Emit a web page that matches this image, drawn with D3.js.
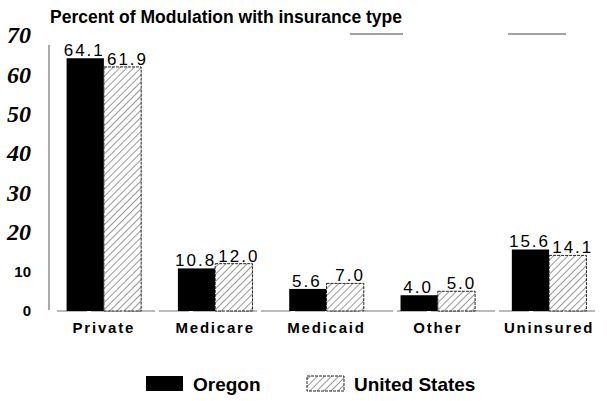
<!DOCTYPE html>
<html>
<head>
<meta charset="utf-8">
<script src="https://cdn.jsdelivr.net/npm/d3@7"></script>
<style>
  body { margin: 0; background: #fff; }
  svg { display: block; }
</style>
</head>
<body>
<svg width="607" height="401"></svg>
<script>
const categories = ["Private", "Medicare", "Medicaid", "Other", "Uninsured"];
const seriesNames = ["Oregon", "United States"];
const oregon = [64.1, 10.8, 5.6, 4.0, 15.6];
const unitedStates = [61.9, 12.0, 7.0, 5.0, 14.1];
const yTicks = [0, 10, 20, 30, 40, 50, 60, 70];

const svg = d3.select("svg");

// hatch pattern for the US bars
const defs = svg.append("defs");
const pat = defs.append("pattern")
  .attr("id", "hatch")
  .attr("patternUnits", "userSpaceOnUse")
  .attr("width", 5).attr("height", 5)
  .attr("patternTransform", "rotate(45)");
pat.append("rect").attr("width", 5).attr("height", 5).attr("fill", "#fff");
pat.append("line").attr("x1", 0).attr("y1", 0).attr("x2", 0).attr("y2", 5)
  .attr("stroke", "#333").attr("stroke-width", 1);

const y = d3.scaleLinear().domain([0, 70]).range([311, 35]);
const x0 = d3.scaleBand().domain(categories).range([48, 605]).paddingInner(0.33).paddingOuter(0.167);
const x1 = d3.scaleBand().domain(seriesNames).range([0, x0.bandwidth()]);

const data = categories.map((c, i) => ({cat: c, values: [
  {s: seriesNames[0], v: oregon[i]},
  {s: seriesNames[1], v: unitedStates[i]}
]}));

// title
svg.append("text")
  .attr("x", 50).attr("y", 23)
  .attr("font-family", "Liberation Sans, Arial, sans-serif")
  .attr("font-weight", "bold").attr("font-size", 17.5)
  .text("Percent of Modulation with insurance type");

// stray rules near the title
[[350, 403], [508, 566]].forEach(([a, b]) => {
  svg.append("line").attr("x1", a).attr("x2", b).attr("y1", 34).attr("y2", 34)
    .attr("stroke", "#444").attr("stroke-width", 1);
});

// y axis
const yAxis = svg.append("g")
  .attr("transform", "translate(49,0)")
  .call(d3.axisLeft(y).tickValues(yTicks).tickSize(0).tickPadding(18));
yAxis.select(".domain").attr("d", "M0,45V310").attr("stroke", "#555");
yAxis.selectAll(".tick text")
  .attr("fill", "#000")
  .attr("font-weight", "bold")
  .attr("font-family", d => d >= 20 ? "Liberation Serif, Times New Roman, serif" : "Liberation Sans, Arial, sans-serif")
  .attr("font-style", d => d >= 20 ? "italic" : "normal")
  .attr("font-size", d => d >= 20 ? 24 : 15);

// baseline
svg.append("line")
  .attr("x1", 57).attr("x2", 595).attr("y1", y(0)).attr("y2", y(0))
  .attr("stroke", "#777").attr("stroke-dasharray", "30,4");

// bars
const groups = svg.selectAll("g.grp").data(data).enter().append("g")
  .attr("class", "grp")
  .attr("transform", d => `translate(${x0(d.cat)},0)`);

groups.selectAll("rect").data(d => d.values).enter().append("rect")
  .attr("x", d => x1(d.s))
  .attr("y", d => y(d.v))
  .attr("width", x1.bandwidth())
  .attr("height", d => y(0) - y(d.v))
  .attr("fill", d => d.s === "Oregon" ? "#000" : "url(#hatch)")
  .attr("stroke", d => d.s === "Oregon" ? "none" : "#222")
  .attr("stroke-dasharray", "3,1");

groups.selectAll("text.val").data(d => d.values).enter().append("text")
  .attr("class", "val")
  .attr("x", d => x1(d.s) + x1.bandwidth() / 2 + (d.s === "Oregon" ? -1 : 5))
  .attr("y", d => y(d.v) - 2)
  .attr("text-anchor", "middle")
  .attr("font-family", "Liberation Sans, Arial, sans-serif")
  .attr("font-size", 17)
  .attr("letter-spacing", 2)
  .text(d => d.v.toFixed(1));

// category labels
const xAxis = svg.append("g")
  .attr("transform", `translate(0,${y(0)})`)
  .call(d3.axisBottom(x0).tickSize(0).tickPadding(11));
xAxis.select(".domain").remove();
xAxis.selectAll(".tick text")
  .attr("fill", "#000")
  .attr("font-family", "Liberation Sans, Arial, sans-serif")
  .attr("font-weight", "bold").attr("font-size", 15)
  .attr("letter-spacing", 1.8);

// legend
const legend = svg.append("g");
const legX = [146, 307];
seriesNames.forEach((s, i) => {
  legend.append("rect")
    .attr("x", legX[i]).attr("y", 376).attr("width", 37).attr("height", 15)
    .attr("fill", i === 0 ? "#000" : "url(#hatch)")
    .attr("stroke", i === 0 ? "none" : "#222")
    .attr("stroke-dasharray", "3,1");
  legend.append("text")
    .attr("x", legX[i] + 47).attr("y", 391)
    .attr("font-family", "Liberation Sans, Arial, sans-serif")
    .attr("font-weight", "bold").attr("font-size", 19)
    .text(s);
});
</script>
</body>
</html>
